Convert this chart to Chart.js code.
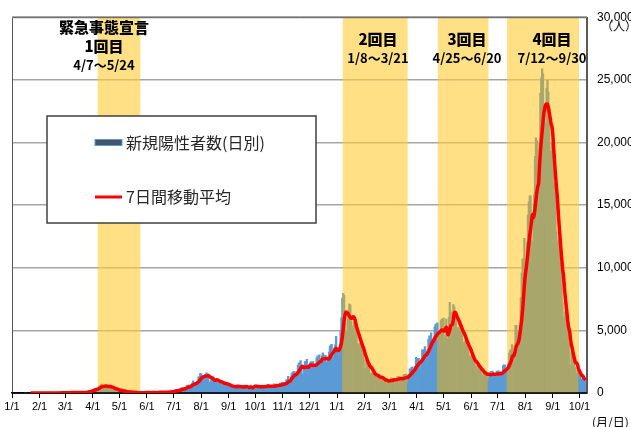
<!DOCTYPE html>
<html lang="ja">
<head>
<meta charset="utf-8">
<title>新規陽性者数の推移</title>
<script src="https://cdn.jsdelivr.net/npm/chart.js@4.4.0/dist/chart.umd.min.js"></script>
<style>
  html, body { margin: 0; padding: 0; background: #fff; }
  canvas { display: block; }
</style>
</head>
<body>
<canvas id="covidChart" width="631" height="427"></canvas>
<script>
// 新規陽性者数(日別)、全国。最初の値は 2020/1/16
const firstDay = '2020-01-16';

const cases2020Jan = [1,0,0,0,0,0,0,0,1,1,1,0,2,1,4,3];
const cases2020Feb = [3,2,0,1,2,0,1,2,0,2, 0,2,5,3,8,5,3,8,10,9, 13,12,9,4,13,19,17,18,10];
const cases2020Mar = [17,15,22,30,37,51,49,29,26,54, 52,58,41,64,39,15,44,39,39,50, 43,39,34,54,95,96,120,201,173,87, 224];
const cases2020Apr = [266,235,351,367,383,252,351,515,576,658, 720,507,391,457,549,587,576,584,568,373, 377,389,438,440,348,201,184,278,230,174];
const cases2020May = [262,205,210,87,122,110,100,84,99,66, 53,85,55,100,58,44,20,30,30,27, 36,25,15,14,21,12,29,34,46,38, 42];
const cases2020Jun = [37,48,40,46,44,51,39,24,38,40, 43,53,49,70,71,46,41,67,62,41, 59,34,59,96,103,105,92,109,86,117];
const cases2020Jul = [127,194,250,274,209,161,207,206,355,430, 385,408,259,334,457,622,592,662,510,419, 630,795,981,770,852,839,598,981,1264,1301, 1580];
const cases2020Aug = [1536,1331,958,1235,1356,1485,1605,1565,1442,845, 700,985,1177,1360,1227,1010,624,903,1070,1064, 1040,913,724,490,688,862,832,866,785,599, 434];
const cases2020Sep = [600,585,619,577,579,443,287,509,509,652, 590,649,438,271,396,506,564,594,626,553, 413,275,200,478,598,640,473,329,519,601];
const cases2020Oct = [628,555,601,427,278,479,492,617,631,605, 454,292,490,614,698,653,604,386,317,528, 591,736,636,722,534,392,534,705,791,751, 866];
const cases2020Nov = [650,491,856,622,1051,1115,1331,950,780,1284, 1547,1660,1708,1738,1438,950,1699,2201,2388,2426, 2596,2168,1520,1228,1946,2502,2507,2684,2065,1429];
const cases2020Dec = [2033,2431,2512,2440,2508,2021,1495,2033,2810,2971, 2789,3041,2397,1680,2993,3211,3040,2832,2999,2468, 1810,2661,3271,3740,3818,3880,2945,2395,3605,3852, 4520];
const cases2021Jan = [3230,3060,3150,3320,4910,6000,7570,7950,7800,6090, 4880,4540,5870,6610,7120,7020,5740,4920,5320,5650, 5710,5000,4710,3990,3400,3860,3960,4130,3530,3340, 2670];
const cases2021Feb = [1790,1960,2640,2580,2280,2280,1600,1220,1570,1710, 1880,1360,1350,1230,960,1300,1520,1300,1230,1270, 1080,740,890,1060,1080,1060,1000,990];
const cases2021Mar = [680,910,1220,1150,1170,1180,1060,600,1120,1300, 1290,1340,1280,980,790,1000,1450,1490,1420,1520, 1110,820,1520,1920,1900,2050,2080,1790,1340,2120, 2840];
const cases2021Apr = [2610,2760,2770,2470,1570,2650,3450,3450,3440,3700, 2780,2120,3450,4300,4570,4530,4800,4090,2900,4340, 5280,5500,5120,5600,4600,3310,4880,5780,5910,4680];
const cases2021May = [5990,4050,4460,5900,4350,3120,6050,7240,6480,4890, 6240,7060,6880,6270,6420,5220,3670,5240,5710,5800, 5180,5020,4030,2690,4120,4520,4170,3870,3810,2950, 1770];
const cases2021Jun = [2960,3030,2870,2630,2620,2090,1410,2230,2370,2080, 1940,1940,1390,930,1600,1750,1720,1610,1540,1320, 940,1430,1710,1720,1750,1630,1340,960,1410,1750];
const cases2021Jul = [1750,1750,1750,1350,980,1680,2190,2240,2230,2010, 1850,1490,2380,3190,3430,3420,3870,3100,1390,3760, 5400,5400,4220,4940,4690,4690,7630,9580,10700,10740, 12340];
const cases2021Aug = [10170,8390,12020,14210,15260,15750,15750,14470,12080,10430, 15810,18890,20370,20150,17480,13810,19940,23920,25160,25880, 25490,22260,16830,21570,24320,24960,24030,22750,19300,13610, 20000];
const cases2021Sep = [20030,16760,16740,15750,12870,7960,12120,12420,10370,9780, 9700,7230,4170,6050,6480,5720,5110,4700,3980,2210, 1770,3240,3660,2560,2420,2040,1130,1590,2120,1580];
const cases2021Oct = [1440,1330,1140,620,1150,1130,980,770];

const dailyCases = [].concat(
  cases2020Jan, cases2020Feb, cases2020Mar, cases2020Apr, cases2020May, cases2020Jun,
  cases2020Jul, cases2020Aug, cases2020Sep, cases2020Oct, cases2020Nov, cases2020Dec,
  cases2021Jan, cases2021Feb, cases2021Mar, cases2021Apr, cases2021May, cases2021Jun,
  cases2021Jul, cases2021Aug, cases2021Sep, cases2021Oct
);

// 横軸の目盛り(各月1日)
const tickDates = [
  '2020-01-01','2020-02-01','2020-03-01','2020-04-01','2020-05-01','2020-06-01',
  '2020-07-01','2020-08-01','2020-09-01','2020-10-01','2020-11-01','2020-12-01',
  '2021-01-01','2021-02-01','2021-03-01','2021-04-01','2021-05-01','2021-06-01',
  '2021-07-01','2021-08-01','2021-09-01','2021-10-01'
];
const tickLabels = [
  '1/1','2/1','3/1','4/1','5/1','6/1','7/1','8/1','9/1','10/1','11/1','12/1',
  '1/1','2/1','3/1','4/1','5/1','6/1','7/1','8/1','9/1','10/1'
];

// 緊急事態宣言の期間
const emergencyNames = ['1回目', '2回目', '3回目', '4回目'];
const emergencyRanges = ['4/7～5/24', '1/8～3/21', '4/25～6/20', '7/12～9/30'];
const emergencyFrom = ['2020-04-07', '2021-01-08', '2021-04-25', '2021-07-12'];
const emergencyTo = ['2020-05-24', '2021-03-21', '2021-06-20', '2021-09-30'];

const yMax = 30000;
const yStep = 5000;

const origin = Date.UTC(2020, 0, 1);
function dayIndex(iso) {
  const [y, m, d] = iso.split('-').map(Number);
  return (Date.UTC(y, m - 1, d) - origin) / 86400000;
}

const start = dayIndex(firstDay);
const periods = emergencyFrom.map((f, i) => ({ from: dayIndex(f), to: dayIndex(emergencyTo[i]) }));
const inEmergency = day => periods.some(p => day >= p.from && day <= p.to);

const barPoints = dailyCases.map((v, i) => ({ x: start + i, y: v }));
const barColors = barPoints.map(p => inEmergency(p.x) ? '#A9A76C' : '#5B9BD5');

// 7日間移動平均(当日を含む過去7日)
const avgPoints = [];
for (let i = 6; i < dailyCases.length; i++) {
  let sum = 0;
  for (let k = i - 6; k <= i; k++) sum += dailyCases[k];
  avgPoints.push({ x: start + i, y: sum / 7 });
}

const jpFont = '"Noto Sans CJK JP", "Noto Sans", sans-serif';

const bands = {
  id: 'bands',
  beforeDatasetsDraw(chart) {
    const { ctx, chartArea: a, scales: { x } } = chart;
    ctx.save();
    ctx.fillStyle = 'rgba(255, 204, 51, 0.6)';
    periods.forEach(p => {
      const x1 = x.getPixelForValue(p.from - 0.5);
      const x2 = x.getPixelForValue(p.to + 0.5);
      ctx.fillRect(x1, a.top, x2 - x1, a.bottom - a.top);
    });
    ctx.restore();
  },
  // 棒の上に枠と横軸線、その上に移動平均線
  afterDatasetDraw(chart, args) {
    if (args.meta.type !== 'bar') return;
    const { ctx, chartArea: a } = chart;
    ctx.save();
    ctx.strokeStyle = '#595959';
    ctx.lineWidth = 1;
    ctx.beginPath();
    ctx.moveTo(a.left + 0.5, a.bottom);
    ctx.lineTo(a.left + 0.5, a.top + 0.5);
    ctx.lineTo(a.right - 0.5, a.top + 0.5);
    ctx.lineTo(a.right - 0.5, a.bottom);
    ctx.stroke();
    ctx.strokeStyle = '#000';
    ctx.lineWidth = 1.5;
    ctx.beginPath();
    ctx.moveTo(a.left, a.bottom);
    ctx.lineTo(a.right, a.bottom);
    ctx.stroke();
    ctx.restore();
  }
};

const notes = {
  id: 'notes',
  afterDatasetsDraw(chart) {
    const { ctx } = chart;
    ctx.save();
    // 凡例
    ctx.fillStyle = '#fff';
    ctx.fillRect(47, 116, 269, 107);
    ctx.strokeStyle = '#404040';
    ctx.lineWidth = 1.5;
    ctx.strokeRect(47, 116, 269, 107);

    ctx.fillStyle = '#44546A';
    ctx.fillRect(95, 139.5, 27, 6);
    ctx.strokeStyle = '#5B9BD5';
    ctx.lineWidth = 1;
    ctx.strokeRect(95, 139.5, 27, 6);

    ctx.strokeStyle = '#FF0000';
    ctx.lineWidth = 3;
    ctx.beginPath();
    ctx.moveTo(95, 197);
    ctx.lineTo(122, 197);
    ctx.stroke();

    ctx.fillStyle = '#262626';
    ctx.font = '16px ' + jpFont;
    ctx.textBaseline = 'middle';
    ctx.textAlign = 'left';
    ctx.fillText(chart.data.datasets[1].label, 126, 143);
    ctx.fillText(chart.data.datasets[0].label, 126, 197);
    ctx.restore();
  },
  afterDraw(chart) {
    const { ctx } = chart;
    ctx.save();
    ctx.fillStyle = '#000';
    ctx.textAlign = 'center';
    ctx.textBaseline = 'middle';

    const noteX = [104, 378, 467, 552];
    ctx.font = '900 15px ' + jpFont;
    ctx.fillText('緊急事態宣言', noteX[0], 27);
    ctx.fillText(emergencyNames[0], noteX[0], 46);
    ctx.font = 'bold 13px ' + jpFont;
    ctx.fillText(emergencyRanges[0], noteX[0], 65);
    for (let i = 1; i < emergencyNames.length; i++) {
      ctx.font = '900 15px ' + jpFont;
      ctx.fillText(emergencyNames[i], noteX[i], 39);
      ctx.font = 'bold 13px ' + jpFont;
      ctx.fillText(emergencyRanges[i], noteX[i], 58);
    }

    ctx.font = '12px ' + jpFont;
    ctx.textAlign = 'left';
    ctx.fillText('（人）', 601, 26);
    ctx.fillText('(月/日)', 592, 422);
    ctx.restore();
  }
};

new Chart(document.getElementById('covidChart'), {
  type: 'bar',
  data: {
    datasets: [
      {
        type: 'line',
        label: '7日間移動平均',
        data: avgPoints,
        borderColor: '#FF0000',
        borderWidth: 3.5,
        pointRadius: 0,
        tension: 0.2,
        order: 0
      },
      {
        type: 'bar',
        label: '新規陽性者数(日別)',
        data: barPoints,
        backgroundColor: barColors,
        barThickness: 1.6,
        order: 1
      }
    ]
  },
  options: {
    responsive: false,
    animation: false,
    layout: { padding: { left: 12, top: 11, right: 0, bottom: 0 } },
    plugins: {
      legend: { display: false },
      tooltip: { enabled: false }
    },
    scales: {
      x: {
        type: 'linear',
        min: 0,
        max: 647.5,
        offset: false,
        grid: { offset: false, drawOnChartArea: false, color: '#000', tickLength: 5 },
        border: { color: '#000', width: 1.5 },
        afterBuildTicks: s => { s.ticks = tickDates.map(d => ({ value: dayIndex(d) })); },
        afterFit: s => { s.height = 34; },
        ticks: {
          autoSkip: false,
          maxRotation: 0,
          minRotation: 0,
          padding: 2,
          color: '#000',
          font: { family: '"Liberation Sans", Arial, sans-serif', size: 11 },
          callback: (v, i) => tickLabels[i]
        }
      },
      y: {
        position: 'right',
        min: 0,
        max: yMax,
        grid: { color: '#A6A6A6', lineWidth: 1.5, drawTicks: false },
        border: { display: true, color: '#595959', width: 1 },
        afterFit: s => { s.width = 44; },
        ticks: {
          stepSize: yStep,
          padding: 10,
          color: '#000',
          font: { family: '"Liberation Sans", Arial, sans-serif', size: 12 },
          callback: v => v.toLocaleString('en-US')
        }
      }
    }
  },
  plugins: [bands, notes]
});
</script>
</body>
</html>
